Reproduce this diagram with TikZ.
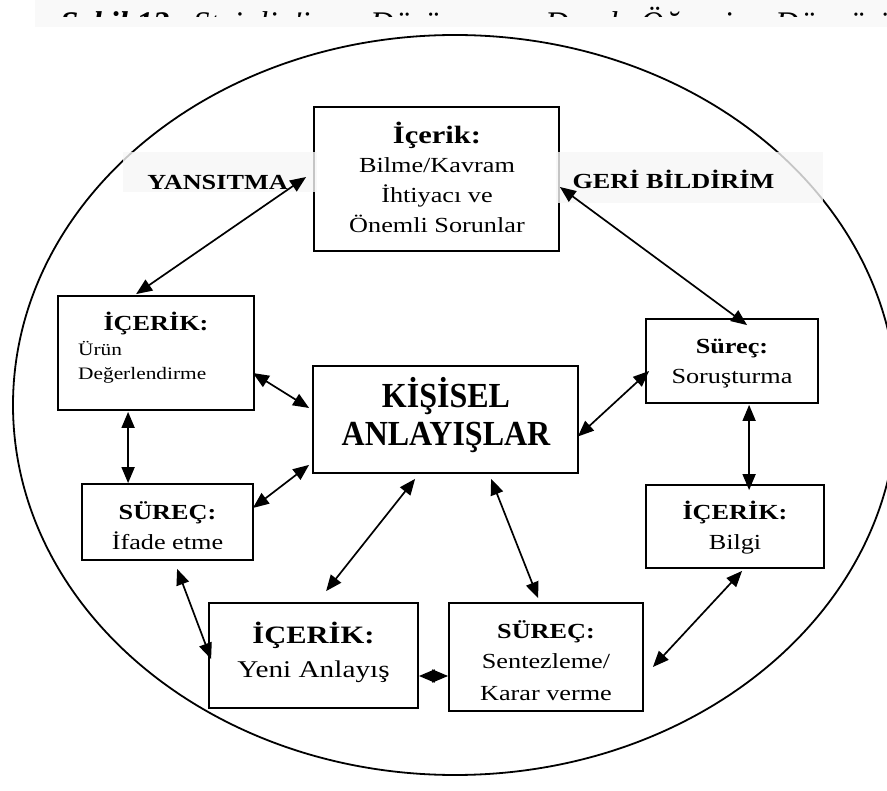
\documentclass[tikz,border=0pt]{standalone}
\usepackage{fontspec}
\setmainfont{Liberation Serif}[FakeStretch=1.22]
\newfontfamily\centerfont{Liberation Serif}
\usetikzlibrary{arrows.meta,calc}
\begin{document}
\begin{tikzpicture}[x=1pt,y=-1pt,
  box/.style={draw, line width=1.8pt, inner sep=0pt},
  txt/.style={anchor=base, inner sep=0pt},
  body/.style={txt, font=\fontsize{21.5}{30}\selectfont},
  head/.style={txt, font=\fontsize{21.5}{30}\selectfont\bfseries},
  bighead/.style={txt, font=\fontsize{25}{30}\selectfont\bfseries},
  small/.style={anchor=base west, inner sep=0pt, font=\fontsize{17.5}{23}\selectfont},
  ttl/.style={anchor=base west, inner sep=0pt, font=\centerfont\fontsize{33}{36}\selectfont\itshape},
  link/.style={line width=1.7pt, arrows={Triangle[length=16pt,width=13pt]-Triangle[length=16pt,width=13pt]}},
  band/.style={fill=black!3, fill opacity=0.8, draw=none},
  ring/.style={line width=1.8pt}
]
\useasboundingbox (0,0) rectangle (887,791);
\clip (0,0) rectangle (887,791);
\fill[white] (0,0) rectangle (887,791);
% title band and clipped title
\fill[black!2.5] (35,0) rectangle (887,27);
\begin{scope}
  \clip (0,0) rectangle (887,17);
  \node[ttl, font=\centerfont\fontsize{33}{36}\selectfont\bfseries\itshape] (w1) at (60,35) {Şekil 12.};
  \node[ttl] (w2) at (193,35) {Steinlin'in};
  \node[ttl] (w3) at (370,35) {Düşünme};
  \node[ttl] (w4) at (504,35) {ve};
  \node[ttl] (w5) at (545,35) {Derek};
  \node[ttl] (w6) at (640,35) {Öğrenim};
  \node[ttl] (w7) at (775,35) {Döngüsü};
\end{scope}
% outer ellipse
\draw[ring] (455,405) ellipse [x radius=442pt, y radius=370pt];
% boxes
\node[box, minimum width=245pt, minimum height=144pt] (t)   at (436.5,179) {};
\node[box, minimum width=196pt, minimum height=114pt] (l)   at (156,353) {};
\node[box, minimum width=171pt, minimum height=76pt]  (ifd) at (167.5,522) {};
\node[box, minimum width=265pt, minimum height=107pt] (c)   at (445.5,419.5) {};
\node[box, minimum width=172pt, minimum height=84pt]  (s)   at (732,361) {};
\node[box, minimum width=178pt, minimum height=83pt]  (bil) at (735,526.5) {};
\node[box, minimum width=209pt, minimum height=105pt] (y)   at (313.5,655.5) {};
\node[box, minimum width=194pt, minimum height=108pt] (sz)  at (546,657) {};
% label bands
\path[band] (123,152) rectangle (317,192);
\path[band] (556,152) rectangle (823,203);
% connectors
\draw[link] ($(l.north west)+(79,-1)$) -- ($(t.west)+(-7,-2)$);
\draw[link] ($(t.east)+(0,8)$) -- ($(s.north west)+(102,7)$);
\draw[link] ($(l.east)+(-2,20)$) -- ($(c.west)+(-3,-11.5)$);
\draw[link] ($(l.south west)+(71,1)$) -- ($(ifd.north west)+(47,0)$);
\draw[link] ($(ifd.east)+(-1,-14)$) -- ($(c.south west)+(-3,-9)$);
\draw[link] ($(c.south west)+(103,5)$) -- ($(y.north west)+(118,-11)$);
\draw[link] ($(c.south west)+(179,5)$) -- ($(sz.north west)+(90,-4)$);
\draw[link] ($(y.east)+(0,20.5)$) -- ($(sz.west)+(0,19)$);
\draw[link] ($(ifd.south west)+(96,8)$) -- ($(y.north west)+(3,57)$);
\draw[link] ($(sz.east)+(9,10)$) -- ($(bil.south west)+(97,2)$);
\draw[link] ($(s.south west)+(104,1)$) -- ($(bil.north west)+(104,6)$);
\draw[link] ($(c.east)+(-1,17)$) -- ($(s.west)+(4,10)$);
% texts
\node[bighead] (t1) at (437,144) {İçerik:};
\node[body] (t2) at (437,173) {Bilme/Kavram};
\node[body] (t3) at (437,203) {İhtiyacı ve};
\node[body] (t4) at (437,233) {Önemli Sorunlar};
\node[head] (ya) at (217.5,190) {YANSITMA};
\node[head] (gb) at (673.5,189) {GERİ BİLDİRİM};
\node[head] (l1) at (156,331) {İÇERİK:};
\node[small] (l2) at (78,356) {Ürün};
\node[small] (l3) at (78,380) {Değerlendirme};
\node[head] (i1) at (167.5,520) {SÜREÇ:};
\node[body] (i2) at (167.5,550) {İfade etme};
\node[txt] (c1) at (446,408) {\scalebox{1}[1.1]{\centerfont\fontsize{32}{36}\selectfont\bfseries KİŞİSEL}};
\node[txt] (c2) at (446,446) {\scalebox{1}[1.1]{\centerfont\fontsize{32}{36}\selectfont\bfseries ANLAYIŞLAR}};
\node[head] (s1) at (732,354) {Süreç:};
\node[body] (s2) at (732,384) {Soruşturma};
\node[head] (b1) at (735,520) {İÇERİK:};
\node[body] (b2) at (735,550) {Bilgi};
\node[bighead] (y1) at (313.5,643) {İÇERİK:};
\node[txt, font=\fontsize{24}{30}\selectfont] (y2) at (313.5,677) {Yeni Anlayış};
\node[head] (z1) at (546,638) {SÜREÇ:};
\node[body] (z2) at (546,668) {Sentezleme/};
\node[body] (z3) at (546,700) {Karar verme};
\end{tikzpicture}
\end{document}
